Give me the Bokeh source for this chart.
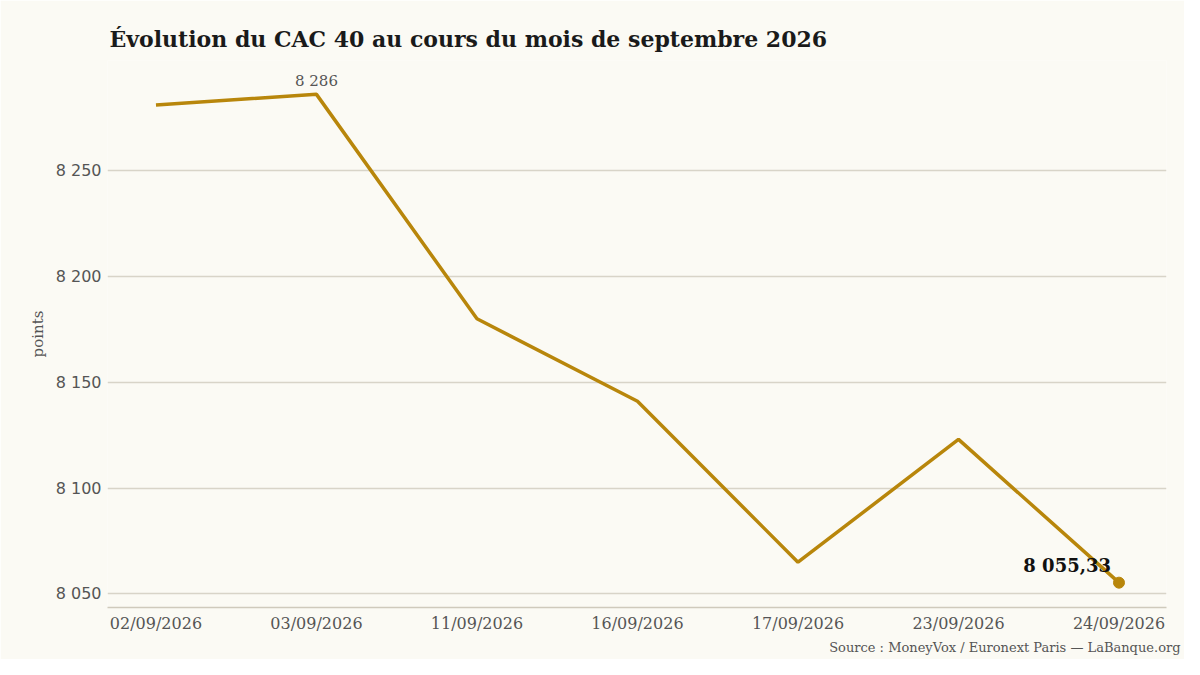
from bokeh.plotting import figure
from bokeh.models import Range1d, FixedTicker, Title
from bokeh.core.properties import value
from bokeh.embed import file_html
from bokeh.resources import INLINE

# séances de septembre 2026 et clôtures du CAC 40
dates = ["02/09/2026", "03/09/2026", "11/09/2026", "16/09/2026",
         "17/09/2026", "23/09/2026", "24/09/2026"]
closes = [8281, 8286, 8180, 8141, 8065, 8123, 8055.33]
y_ticks = [8050, 8100, 8150, 8200, 8250]

BG = "#fbfaf4"
GOLD = "#b8860b"
GREY = "#555555"
SERIF = "DejaVu Serif"


def fr(v):
    # format français : espace comme séparateur de milliers
    return f"{v:,.0f}".replace(",", " ")


idx = list(range(len(dates)))

p = figure(
    width=1184,
    height=659,
    x_range=Range1d(-0.302, 6.296),
    y_range=Range1d(8043.6, 8302),
    output_backend="svg",
    toolbar_location=None,
    min_border_left=107,
    min_border_right=18,
    min_border_top=60,
    min_border_bottom=52,
    title="Évolution du CAC 40 au cours du mois de septembre 2026",
)

p.background_fill_color = BG
p.border_fill_color = BG
p.outline_line_color = None

p.title.text_font = SERIF
p.title.text_font_style = "bold"
p.title.text_font_size = "22px"
p.title.text_color = "#1a1a1a"
p.title.offset = 2
p.title.standoff = 17

p.line(idx, closes, line_color=GOLD, line_width=3.5)
p.scatter([idx[-1]], [closes[-1]], size=11, fill_color=GOLD, line_color=GOLD)

# annotation du plus haut
imax = closes.index(max(closes))
p.text([idx[imax]], [closes[imax]], text=[fr(closes[imax])],
       text_font=value(SERIF), text_font_size="15px", text_color=GREY,
       text_align="center", text_baseline="alphabetic", y_offset=-13)

# dernière valeur
last_txt = f"{closes[-1]:,.2f}".replace(",", " ").replace(".", ",")
p.text([idx[-1]], [closes[-1]], text=[last_txt],
       text_font=value(SERIF), text_font_size="18px", text_font_style="bold",
       text_color="#111111", text_align="right", text_baseline="alphabetic",
       x_offset=-8, y_offset=-17)

# axes
p.xgrid.grid_line_color = None
p.ygrid.grid_line_color = "#d8d4c8"
p.ygrid.grid_line_width = 1.5

p.xaxis.ticker = FixedTicker(ticks=idx)
p.xaxis.major_label_overrides = {i: d for i, d in zip(idx, dates)}
p.xaxis.major_label_text_font = SERIF
p.xaxis.major_label_text_font_size = "16px"
p.xaxis.major_label_text_color = GREY
p.xaxis.major_label_standoff = 0
p.xaxis.axis_line_color = "#cfcabc"
p.xaxis.axis_line_width = 1.5
p.xaxis.major_tick_line_color = None
p.xaxis.minor_tick_line_color = None

p.yaxis.ticker = FixedTicker(ticks=y_ticks)
p.yaxis.major_label_overrides = {t: fr(t) for t in y_ticks}
p.yaxis.major_label_text_font = "DejaVu Sans"
p.yaxis.major_label_text_font_size = "16px"
p.yaxis.major_label_text_color = GREY
p.yaxis.major_label_standoff = 0
p.yaxis.axis_line_color = None
p.yaxis.major_tick_line_color = None
p.yaxis.minor_tick_line_color = None
p.yaxis.axis_label = "points"
p.yaxis.axis_label_text_font = SERIF
p.yaxis.axis_label_text_font_style = "normal"
p.yaxis.axis_label_text_font_size = "15px"
p.yaxis.axis_label_text_color = GREY
p.yaxis.axis_label_standoff = 6

source = Title(text="Source : MoneyVox / Euronext Paris — LaBanque.org",
               align="right", offset=-14, standoff=5,
               text_font=SERIF, text_font_size="13px",
               text_font_style="normal", text_color=GREY)
p.add_layout(source, "below")

open("out.html", "w").write(file_html(p, INLINE))
